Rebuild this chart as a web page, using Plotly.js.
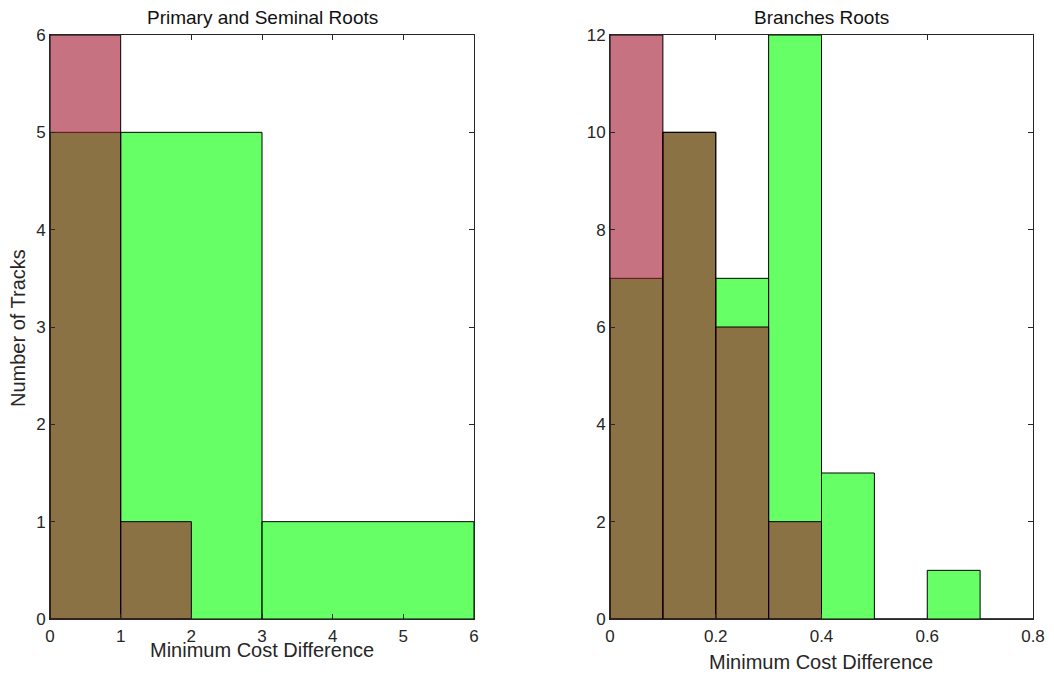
<!DOCTYPE html>
<html>
<head>
<meta charset="utf-8">
<script src="https://cdn.plot.ly/plotly-3.0.1.min.js"></script>
<style>html,body{margin:0;padding:0;background:#fff;}#chart{width:1054px;height:677px;}</style>
</head>
<body>
<div id="chart"></div>
<script>
// Left panel: Primary and Seminal Roots
const leftRedEdges = [0, 1, 2];
const leftRedCounts = [6, 1];
const leftGreenEdges = [0, 1, 3, 6];
const leftGreenCounts = [5, 5, 1];
// Right panel: Branches Roots
const rightRedEdges = [0, 0.1, 0.2, 0.3, 0.4];
const rightRedCounts = [12, 10, 6, 2];
const rightGreenEdges = [0, 0.1, 0.2, 0.3, 0.4, 0.5, 0.6, 0.7, 0.8];
const rightGreenCounts = [7, 10, 7, 12, 3, 0, 1, 0];

const titles = ["Primary and Seminal Roots", "Branches Roots"];
const xLabel = "Minimum Cost Difference";
const yLabel = "Number of Tracks";

function binTrace(edges, counts, color, xa, ya) {
  const x = [], w = [];
  for (let i = 0; i < counts.length; i++) {
    x.push((edges[i] + edges[i + 1]) / 2);
    w.push(edges[i + 1] - edges[i]);
  }
  return {
    type: 'bar', x: x, y: counts, width: w, xaxis: xa, yaxis: ya,
    marker: {color: color, line: {color: '#000', width: 1}},
    hoverinfo: 'skip', showlegend: false
  };
}
const RED = 'rgba(162,20,45,0.6)';
const GREEN = 'rgba(0,255,0,0.6)';

const data = [
  binTrace(leftGreenEdges, leftGreenCounts, GREEN, 'x', 'y'),
  binTrace(leftRedEdges, leftRedCounts, RED, 'x', 'y'),
  binTrace(rightGreenEdges, rightGreenCounts, GREEN, 'x2', 'y2'),
  binTrace(rightRedEdges, rightRedCounts, RED, 'x2', 'y2')
];

const W = 1054, H = 677;
const fontF = 'Liberation Sans, Arial, Helvetica, sans-serif';
function ax(extra) {
  return Object.assign({
    showline: true, mirror: 'allticks', linecolor: '#262626', linewidth: 1,
    ticks: 'inside', ticklen: 5, tickcolor: '#262626', tickwidth: 1,
    showgrid: false, zeroline: false,
    tickfont: {family: fontF, size: 17, color: '#262626'}
  }, extra);
}
const yDom = [(H - 619) / H, (H - 35) / H];
const layout = {
  width: W, height: H,
  margin: {l: 0, r: 0, t: 0, b: 0},
  paper_bgcolor: '#fff', plot_bgcolor: '#fff',
  barmode: 'overlay', bargap: 0,
  font: {family: fontF, color: '#262626'},
  xaxis: ax({domain: [50 / W, 474 / W], range: [0, 6], dtick: 1, tick0: 0, anchor: 'y', ticklabelstandoff: 2}),
  yaxis: ax({domain: yDom, range: [0, 6], dtick: 1, tick0: 0, anchor: 'x'}),
  xaxis2: ax({domain: [610 / W, 1033 / W], range: [0, 0.8], dtick: 0.2, tick0: 0, anchor: 'y2', ticklabelstandoff: 2}),
  yaxis2: ax({domain: yDom, range: [0, 12], dtick: 2, tick0: 0, anchor: 'x2'}),
  annotations: [
    {text: titles[0], xref: 'paper', yref: 'paper', x: 262 / W, y: 1 - 18 / H, xanchor: 'center', yanchor: 'middle', showarrow: false, font: {family: fontF, size: 19, color: '#111'}},
    {text: titles[1], xref: 'paper', yref: 'paper', x: 821 / W, y: 1 - 18 / H, xanchor: 'center', yanchor: 'middle', showarrow: false, font: {family: fontF, size: 19, color: '#111'}},
    {text: xLabel, xref: 'paper', yref: 'paper', x: 262 / W, y: 1 - 650 / H, xanchor: 'center', yanchor: 'middle', showarrow: false, font: {family: fontF, size: 20, color: '#262626'}},
    {text: xLabel, xref: 'paper', yref: 'paper', x: 821 / W, y: 1 - 662 / H, xanchor: 'center', yanchor: 'middle', showarrow: false, font: {family: fontF, size: 20, color: '#262626'}},
    {text: yLabel, xref: 'paper', yref: 'paper', x: 18 / W, y: 1 - 328 / H, xanchor: 'center', yanchor: 'middle', textangle: -90, showarrow: false, font: {family: fontF, size: 20, color: '#262626'}}
  ]
};
Plotly.newPlot('chart', data, layout, {displayModeBar: false, staticPlot: true});
</script>
</body>
</html>
